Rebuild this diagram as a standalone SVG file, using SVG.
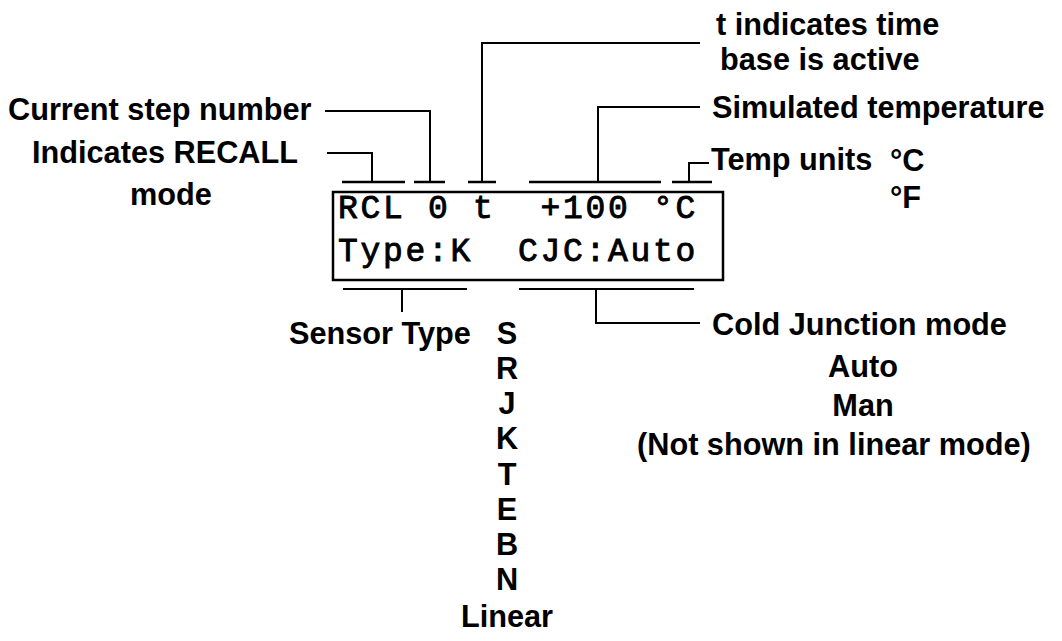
<svg xmlns="http://www.w3.org/2000/svg" width="1062" height="641" viewBox="0 0 1062 641">
<style>
.lbl{font-family:"Liberation Sans",Arial,sans-serif;font-weight:bold;font-size:30.7px;fill:#000}
.mid{text-anchor:middle}
.lcd{font-family:"Liberation Mono","Courier New",monospace;font-weight:normal;font-size:33px;letter-spacing:2.7px;fill:#000;stroke:#000;stroke-width:0.9px}
.ln{stroke:#000;stroke-width:2;fill:none}
.tk{stroke:#000;stroke-width:2.5;fill:none}
</style>
<rect width="1062" height="641" fill="#fff"/>
<g id="display">
<rect x="333" y="192" width="390" height="88" fill="none" stroke="#000" stroke-width="2.5"/>
<text class="lcd" x="338" y="218" xml:space="preserve">RCL 0 t  +100 °C</text>
<text class="lcd" x="338" y="261" xml:space="preserve">Type:K  CJC:Auto</text>
</g>
<g id="connectors">
<path class="tk" d="M342 182H405M414 182H445M468 182H496M529 182H661M672 182H712"/>
<path class="ln" d="M325 111H430V182"/>
<path class="ln" d="M327 153H372V182"/>
<path class="ln" d="M700 43H482V182"/>
<path class="ln" d="M700 107H598V182"/>
<path class="ln" d="M709 163H689V182"/>
<path class="ln" d="M343 289H467M519 289H694"/>
<path class="ln" d="M402 289V312"/>
<path class="ln" d="M596 289V323H700"/>
</g>
<g id="label-step">
<text class="lbl" x="8" y="120">Current step number</text>
</g>
<g id="label-recall">
<text class="lbl" x="32" y="163">Indicates RECALL</text>
<text class="lbl mid" x="171" y="205">mode</text>
</g>
<g id="label-timebase">
<text class="lbl" x="716" y="35">t indicates time</text>
<text class="lbl" x="720" y="70">base is active</text>
</g>
<g id="label-simtemp">
<text class="lbl" x="712" y="118">Simulated temperature</text>
</g>
<g id="label-units">
<text class="lbl" x="711" y="170">Temp units</text>
<text class="lbl" x="890" y="171">°C</text>
<text class="lbl" x="890" y="208">°F</text>
</g>
<g id="label-sensor">
<text class="lbl" x="289" y="344">Sensor Type</text>
<text class="lbl mid" x="507" y="344">S</text>
<text class="lbl mid" x="507" y="379">R</text>
<text class="lbl mid" x="507" y="414">J</text>
<text class="lbl mid" x="507" y="449">K</text>
<text class="lbl mid" x="507" y="485">T</text>
<text class="lbl mid" x="507" y="520">E</text>
<text class="lbl mid" x="507" y="555">B</text>
<text class="lbl mid" x="507" y="590">N</text>
<text class="lbl mid" x="507" y="627">Linear</text>
</g>
<g id="label-cjc">
<text class="lbl" x="712" y="335">Cold Junction mode</text>
<text class="lbl mid" x="863" y="377">Auto</text>
<text class="lbl mid" x="863" y="416">Man</text>
<text class="lbl" x="637" y="455">(Not shown in linear mode)</text>
</g>
</svg>
